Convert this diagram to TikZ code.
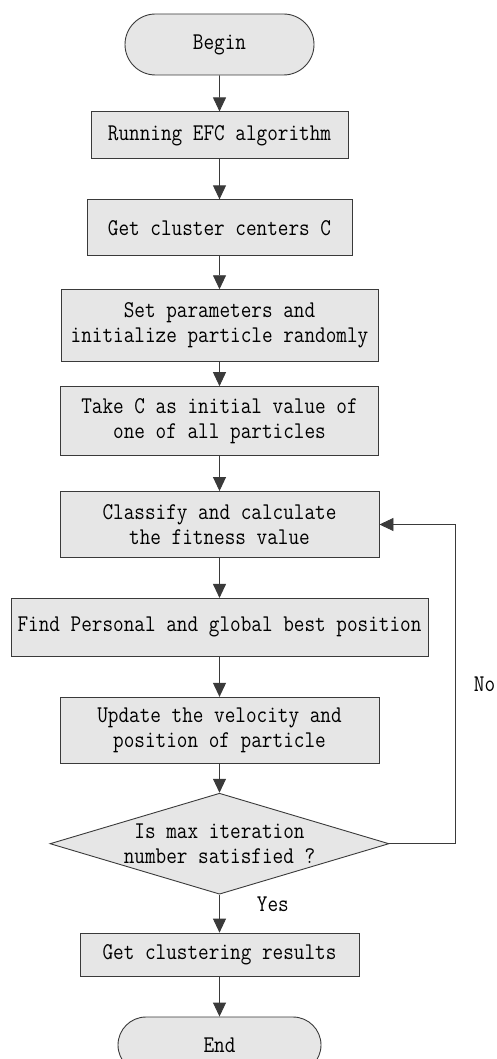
\documentclass[tikz,border=0pt]{standalone}
\usepackage{fontspec}
\setmonofont[FakeStretch=0.86]{Latin Modern Mono}
\usetikzlibrary{arrows.meta, positioning, shapes.geometric, shapes.misc}
\definecolor{boxgray}{HTML}{E6E6E6}
\definecolor{linegray}{HTML}{3A3A3A}

\begin{document}
\begin{tikzpicture}[x=1pt, y=1pt,
    every node/.style={font=\ttfamily\fontsize{24}{25}\selectfont, align=center, inner sep=0pt},
    block/.style={rectangle, draw=linegray, fill=boxgray, line width=0.9pt},
    terminal/.style={rounded rectangle, draw=linegray, fill=boxgray, line width=0.9pt},
    decision/.style={diamond, draw=linegray, fill=boxgray, line width=0.9pt},
    line/.style={draw=linegray, line width=0.9pt, -{Triangle[length=14pt, width=13pt]}}]
    \useasboundingbox (0,0) rectangle (497,-1059);
    \node[terminal, minimum width=189pt, minimum height=61pt] (begin) at (219.5,-44.5) {Begin};
    \node[block, below=36pt of begin, minimum width=257pt, minimum height=47pt] (efc) {Running EFC algorithm};
    \node[block, below=40pt of efc, minimum width=265pt, minimum height=56pt] (centers) {Get cluster centers C};
    \node[block, below=33pt of centers, minimum width=317pt, minimum height=72pt] (params) {Set parameters and\\initialize particle randomly};
    \node[block, below=24pt of params, minimum width=318pt, minimum height=69pt] (initc) {Take C as initial value of\\one of all particles};
    \node[block, below=35pt of initc, minimum width=319pt, minimum height=66pt] (fitness) {Classify and calculate\\the fitness value};
    \node[block, below=40pt of fitness, minimum width=417pt, minimum height=58pt] (best) {Find Personal and global best position};
    \node[block, below=40pt of best, minimum width=319pt, minimum height=66pt] (update) {Update the velocity and\\position of particle};
    \node[decision, below=29pt of update, minimum width=339pt, minimum height=101pt] (check) {};
    \node (checktext) at (check) {Is max iteration\\number satisfied ?};
    \node[block, below=38pt of check, minimum width=279pt, minimum height=43pt] (result) {Get clustering results};
    \node[terminal, below=40pt of result, minimum width=203pt, minimum height=56pt] (end) {End};

    \draw[line] (begin) -- (efc);
    \draw[line] (efc) -- (centers);
    \draw[line] (centers) -- (params);
    \draw[line] (params) -- (initc);
    \draw[line] (initc) -- (fitness);
    \draw[line] (fitness) -- (best);
    \draw[line] (best) -- (update);
    \draw[line] (update) -- (check);
    \draw[line] (check) -- node[pos=0.26, right=37pt] {Yes} (result);
    \draw[line] (result) -- (end);
    % loop back when not done
    \draw[line] (check.east) -- ++(66pt,0) |- node[pos=0.25, right=18pt] {No} (fitness.east);
\end{tikzpicture}
\end{document}
